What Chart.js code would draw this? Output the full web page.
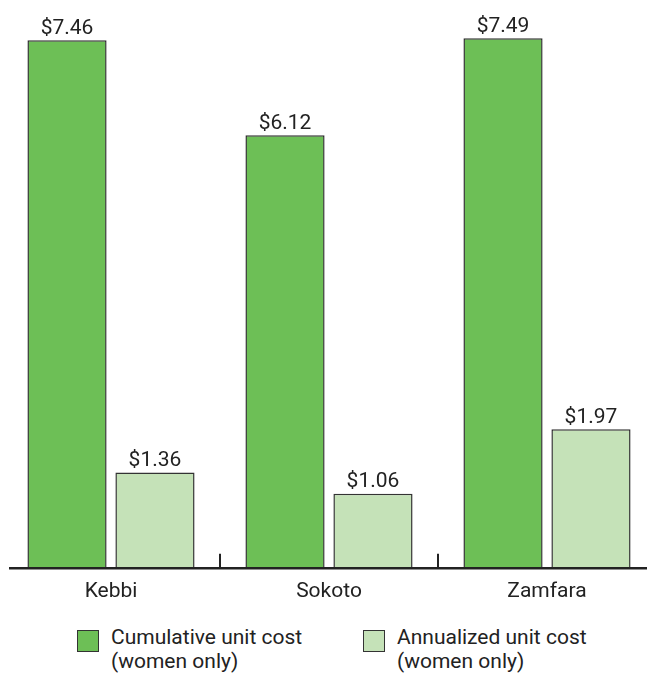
<!DOCTYPE html>
<html>
<head>
<meta charset="utf-8">
<script src="https://cdn.jsdelivr.net/npm/chart.js@4/dist/chart.umd.min.js"></script>
<style>
    html, body { margin: 0; padding: 0; background: #fff; overflow: hidden; }
    body { width: 647px; height: 680px; position: relative; font-family: Roboto, sans-serif; }
    #wrap { position: absolute; left: 0; top: 0; width: 660px; height: 614px; }
    .legende { position: absolute; top: 625px; font-size: 21px; line-height: 24px; color: #222; }
    .legende span.boite {
        position: absolute; left: 0; top: 5px; width: 20px; height: 20px;
        border: 1.5px solid #333;
    }
    .legende div { margin-left: 34px; }
</style>
</head>
<body>
<div id="wrap"><canvas id="graphique"></canvas></div>
<div class="legende" id="leg1" style="left:77px"></div>
<div class="legende" id="leg2" style="left:363px"></div>
<script>
// Données du graphique
const etats = ["Kebbi", "Sokoto", "Zamfara"];
const coutCumule = [7.46, 6.12, 7.49];
const coutAnnualise = [1.36, 1.06, 1.97];
const nomsSeries = [
    ["Cumulative unit cost", "(women only)"],
    ["Annualized unit cost", "(women only)"],
];
const couleurs = ["#6dbf56", "#c5e2b8"];

// valeurs au dessus des barres + axe + petits traits entre les catégories
const pluginEtiquettes = {
    id: "etiquettes",
    afterDatasetsDraw(chart) {
        const ctx = chart.ctx;
        ctx.save();
        ctx.font = "21px Roboto";
        ctx.fillStyle = "#222";
        ctx.textAlign = "center";
        ctx.textBaseline = "bottom";
        chart.data.datasets.forEach((ds, i) => {
            chart.getDatasetMeta(i).data.forEach((bar, j) => {
                ctx.fillText("$" + ds.data[j].toFixed(2), bar.x, bar.y - 1);
            });
        });
        // axe horizontal
        const area = chart.chartArea;
        ctx.strokeStyle = "#222";
        ctx.lineWidth = 2.5;
        ctx.beginPath();
        ctx.moveTo(9, area.bottom - 0.5);
        ctx.lineTo(chart.width, area.bottom - 0.5);
        ctx.stroke();
        // traits entre catégories
        const x = chart.scales.x;
        ctx.lineWidth = 2;
        for (let k = 1; k < etats.length; k++) {
            const pos = (x.getPixelForValue(k - 1) + x.getPixelForValue(k)) / 2;
            ctx.beginPath();
            ctx.moveTo(pos, area.bottom - 15);
            ctx.lineTo(pos, area.bottom);
            ctx.stroke();
        }
        ctx.restore();
    },
};

const data = {
    labels: etats,
    datasets: [
        { label: nomsSeries[0].join(" "), data: coutCumule, backgroundColor: couleurs[0] },
        { label: nomsSeries[1].join(" "), data: coutAnnualise, backgroundColor: couleurs[1] },
    ],
};

const config = {
    type: "bar",
    data: data,
    options: {
        responsive: true,
        maintainAspectRatio: false,
        animation: false,
        layout: { padding: { left: 2, right: 4, top: 2, bottom: 0 } },
        datasets: {
            bar: {
                borderColor: "#333",
                borderWidth: 1.5,
                categoryPercentage: 0.807,
                barPercentage: 0.9,
            },
        },
        plugins: {
            legend: { display: false },
            tooltip: { enabled: false },
        },
        scales: {
            x: {
                grid: { display: false, drawTicks: false },
                border: { display: false },
                ticks: { color: "#222", font: { family: "Roboto", size: 21 }, padding: 10 },
            },
            y: { display: false, min: 0, max: 8 },
        },
    },
    plugins: [pluginEtiquettes],
};

new Chart(document.querySelector("#graphique"), config);

// légende en HTML (libellés sur deux lignes)
["leg1", "leg2"].forEach((id, i) => {
    const el = document.getElementById(id);
    el.innerHTML = `<span class="boite" style="background:${couleurs[i]}"></span>` +
        `<div>${nomsSeries[i][0]}<br>${nomsSeries[i][1]}</div>`;
});
</script>
</body>
</html>
